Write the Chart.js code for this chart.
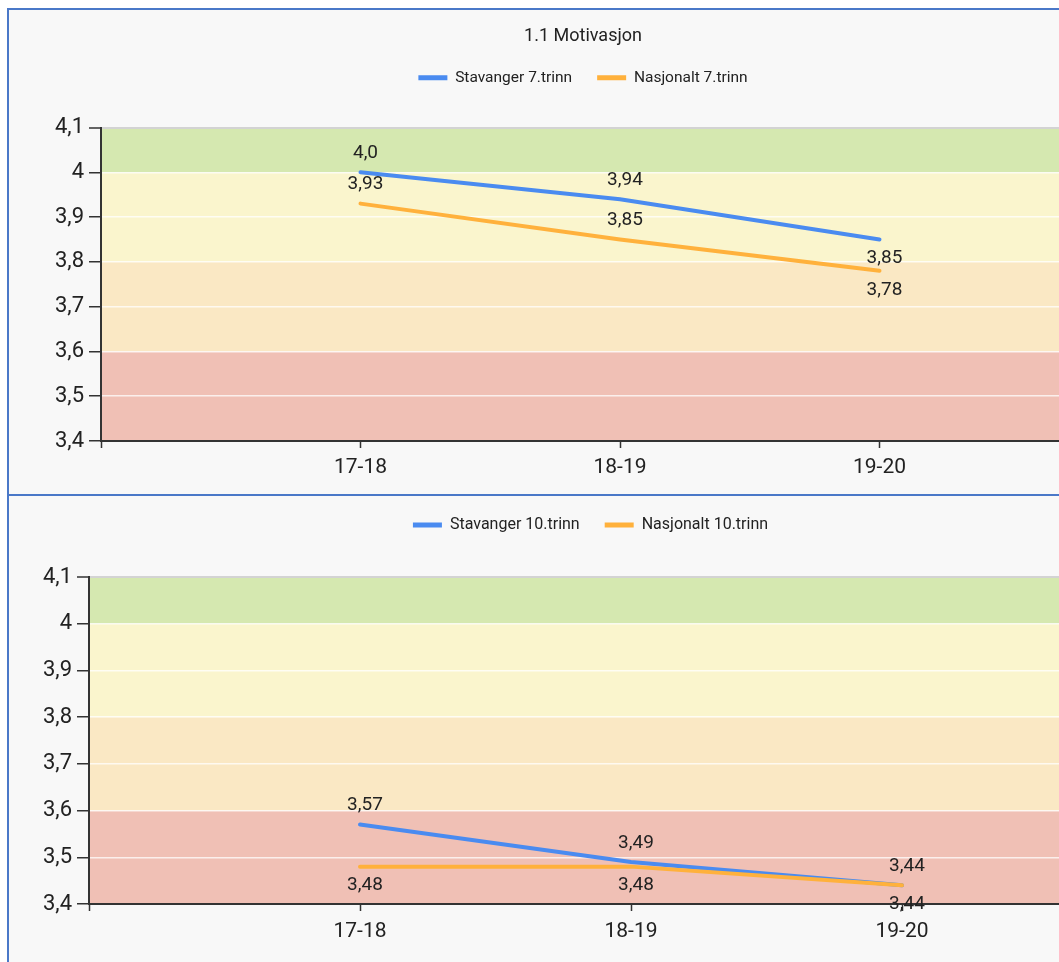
<!DOCTYPE html>
<html><head><meta charset="utf-8">
<script src="https://cdn.jsdelivr.net/npm/chart.js@4"></script>
<style>
html,body{margin:0;padding:0;background:#fff;width:1059px;height:962px;overflow:hidden;position:relative}
#p1{position:absolute;left:7px;top:8px;width:1200px;height:485px;background:#f8f8f8;border-left:2px solid #4a78c8;border-top:2px solid #4a78c8}
#p2{position:absolute;left:7px;top:494px;width:1200px;height:480px;background:#f8f8f8;border-left:2px solid #4a78c8;border-top:2px solid #4a78c8}
.cw{position:absolute}
</style></head><body>
<div id="p1"></div><div id="p2"></div>
<div class="cw" style="left:0px;top:10px"><canvas id="c1" width="1166" height="484"></canvas></div>
<div class="cw" style="left:0px;top:492px"><canvas id="c2" width="1181" height="470"></canvas></div>
<script>
const categories = ['17-18', '18-19', '19-20'];
const stavanger7 = [4.00, 3.94, 3.85];
const nasjonalt7 = [3.93, 3.85, 3.78];
const stavanger10 = [3.57, 3.49, 3.44];
const nasjonalt10 = [3.48, 3.48, 3.44];
const yMin = 3.4, yMax = 4.1, yStep = 0.1;
const bandLimits = [3.4, 3.6, 3.8, 4.0, 4.1];
const bandColors = ['#f0c0b5', '#fae8c4', '#faf5cd', '#d5e8b0'];
const title7 = '1.1 Motivasjon';
const labels7 = ['Stavanger 7.trinn', 'Nasjonalt 7.trinn'];
const labels10 = ['Stavanger 10.trinn', 'Nasjonalt 10.trinn'];

const BLUE = '#4a8bf0', ORANGE = '#ffb13c', TXT = '#222';
const FONT = "Roboto, 'Liberation Sans', sans-serif";

function fmt(v) { return v.toFixed(2).replace(/0$/, '').replace('.', ','); }
function pts(arr) { return arr.map((v, i) => ({ x: i + 1, y: v })); }

const bandsPlugin = {
  id: 'bands',
  beforeDraw(chart) {
    const { ctx, chartArea: a, scales: { y } } = chart;
    ctx.save();
    for (let i = 0; i < bandColors.length; i++) {
      const t = y.getPixelForValue(bandLimits[i + 1]), b = y.getPixelForValue(bandLimits[i]);
      ctx.fillStyle = bandColors[i];
      ctx.fillRect(a.left, t, a.right - a.left, b - t);
    }
    ctx.restore();
  }
};

const valueLabels = {
  id: 'valueLabels',
  afterDatasetsDraw(chart) {
    const ctx = chart.ctx;
    ctx.save();
    ctx.font = '19px ' + FONT;
    ctx.fillStyle = TXT;
    ctx.textAlign = 'center';
    ctx.textBaseline = 'middle';
    chart.data.datasets.forEach((ds, di) => {
      const meta = chart.getDatasetMeta(di);
      meta.data.forEach((p, i) => {
        const dir = ds.labelPlacement[i] === 'below' ? 1 : -1;
        ctx.fillText(fmt(ds.data[i].y), p.x + 5, p.y + dir * 19);
      });
    });
    ctx.restore();
  }
};

function legendSpace(extra) {
  return {
    id: 'legendSpace',
    beforeInit(chart) {
      const lg = chart.legend;
      const orig = lg.fit;
      lg.fit = function () { orig.call(this); this.height += extra; };
    }
  };
}

function makeChart(id, o) {
  return new Chart(document.getElementById(id), {
    type: 'line',
    data: {
      datasets: [
        { label: o.labels[0], data: pts(o.s1), borderColor: BLUE, backgroundColor: BLUE, borderWidth: 4,
          pointRadius: 0, borderCapStyle: 'round', borderJoinStyle: 'round', order: 1, labelPlacement: o.place1 },
        { label: o.labels[1], data: pts(o.s2), borderColor: ORANGE, backgroundColor: ORANGE, borderWidth: 4,
          pointRadius: 0, borderCapStyle: 'round', borderJoinStyle: 'round', order: 0, labelPlacement: o.place2 }
      ]
    },
    options: {
      responsive: false,
      animation: false,
      layout: { padding: { left: o.padLeft, right: o.padRight, top: 0, bottom: 0 } },
      plugins: {
        title: { display: !!o.title, text: o.title || '', font: { family: FONT, size: 18, weight: 'normal', lineHeight: 1.0 },
          color: TXT, padding: { top: 17, bottom: 0 } },
        legend: {
          labels: {
            font: { family: FONT, size: o.legendFont }, color: TXT, boxWidth: 29, boxHeight: 5, padding: 25,
            generateLabels(chart) {
              return chart.data.datasets.map((ds, i) => ({
                text: ds.label, fillStyle: ds.borderColor, strokeStyle: ds.borderColor,
                lineWidth: 0, hidden: false, datasetIndex: i, fontColor: TXT
              }));
            }
          }
        },
        tooltip: { enabled: false }
      },
      scales: {
        x: {
          type: 'linear', min: 0, max: 4,
          afterFit(s) { s.height = o.xH; },
          ticks: { stepSize: 1, autoSkip: false, maxRotation: 0, padding: o.xPad,
            font: { family: FONT, size: 21 }, color: TXT,
            callback: v => categories[v - 1] || '' },
          grid: { drawOnChartArea: false, tickLength: 7, tickColor: '#333', tickWidth: 1.5 },
          border: { color: '#333', width: 2 }
        },
        y: {
          min: yMin, max: yMax,
          afterFit(s) { s.width = o.yW; },
          ticks: { stepSize: yStep, padding: 5, font: { family: FONT, size: 22 }, color: TXT,
            callback: v => String(Math.round(v * 10) / 10).replace('.', ',') },
          grid: {
            color: c => Math.abs(c.tick.value - yMax) < 1e-6 ? '#d3d3d3' : 'rgba(255,255,255,0.75)',
            lineWidth: c => Math.abs(c.tick.value - yMax) < 1e-6 ? 2 : 1.5,
            tickLength: 12, tickColor: '#333', tickWidth: 1.5
          },
          border: { color: '#333', width: 2 }
        }
      }
    },
    plugins: [bandsPlugin, valueLabels, legendSpace(o.legendExtra)]
  });
}

makeChart('c1', {
  title: title7, labels: labels7, s1: stavanger7, s2: nasjonalt7,
  place1: ['above', 'above', 'below'], place2: ['above', 'above', 'below'],
  padLeft: 27, padRight: 27, yW: 74, xH: 53, xPad: 7, legendExtra: 32, legendFont: 15.5
});
makeChart('c2', {
  title: null, labels: labels10, s1: stavanger10, s2: nasjonalt10,
  place1: ['above', 'above', 'above'], place2: ['below', 'below', 'below'],
  padLeft: 0, padRight: 0, yW: 89, xH: 58, xPad: 8, legendExtra: 34, legendFont: 16
});
</script>
</body></html>
